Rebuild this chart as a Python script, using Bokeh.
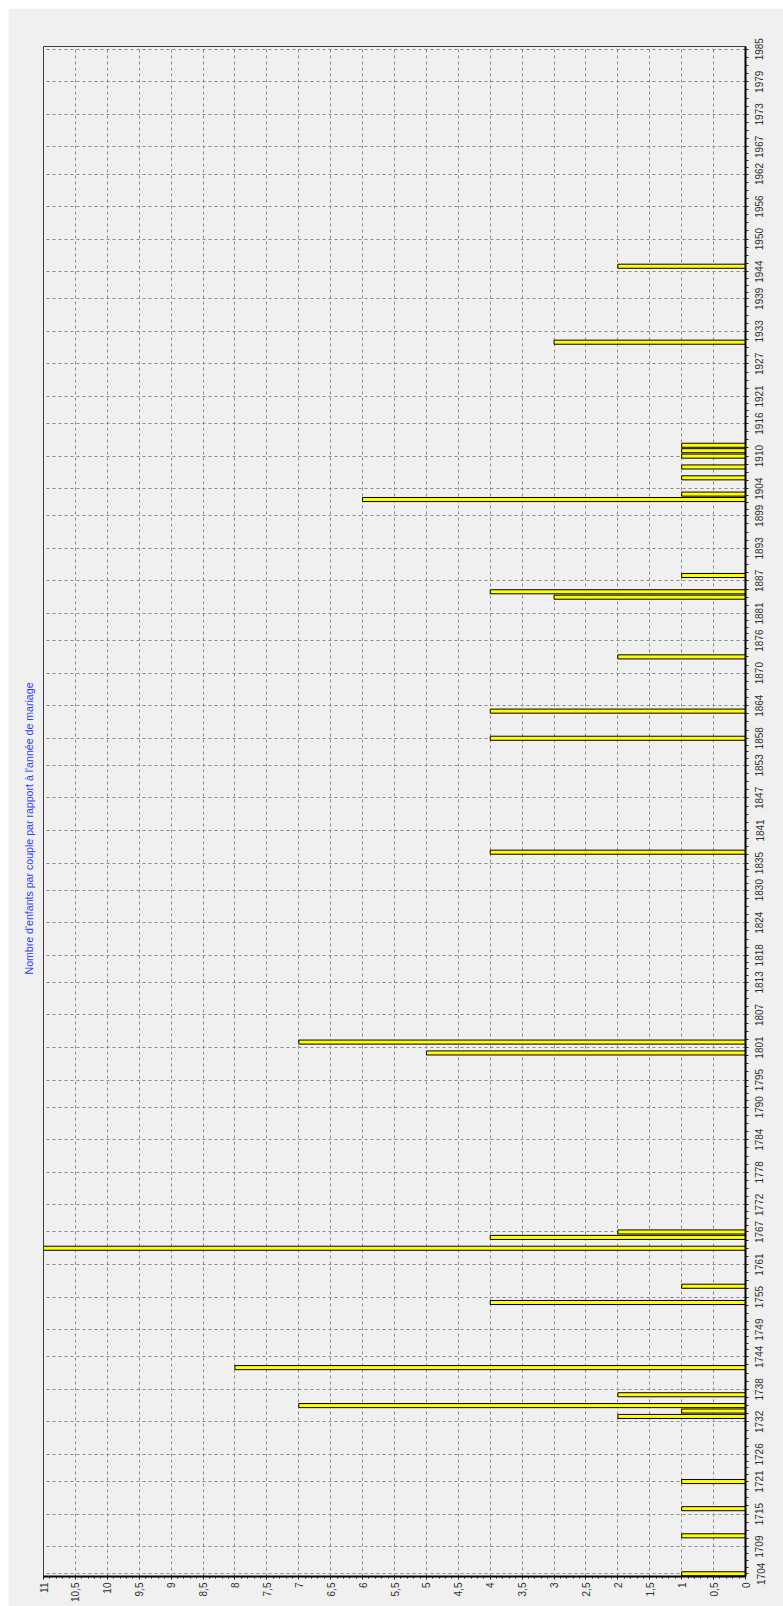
import numpy as np
from bokeh.plotting import figure
from bokeh.models import Range1d, FixedTicker, ColumnDataSource, LinearAxis, Label
from bokeh.embed import file_html
from bokeh.resources import INLINE

# ---- data ----
years = [1704, 1711, 1716, 1721, 1733, 1734, 1735, 1737, 1742, 1754, 1757,
         1764, 1766, 1767, 1800, 1802, 1837, 1858, 1863, 1873, 1884, 1885,
         1888, 1902, 1903, 1906, 1908, 1910, 1911, 1912, 1931, 1945]
children = [1, 1, 1, 1, 2, 1, 7, 2, 8, 4, 1,
            11, 4, 2, 5, 7, 4, 4, 4, 2, 3, 4,
            1, 6, 1, 1, 1, 1, 1, 1, 3, 2]

year_ticks = [1704, 1709, 1715, 1721, 1726, 1732, 1738, 1744, 1749, 1755,
              1761, 1767, 1772, 1778, 1784, 1790, 1795, 1801, 1807, 1813,
              1818, 1824, 1830, 1835, 1841, 1847, 1853, 1858, 1864, 1870,
              1876, 1881, 1887, 1893, 1899, 1904, 1910, 1916, 1921, 1927,
              1933, 1939, 1944, 1950, 1956, 1962, 1967, 1973, 1979, 1985]

value_ticks = [0, 0.5, 1, 1.5, 2, 2.5, 3, 3.5, 4, 4.5, 5, 5.5,
               6, 6.5, 7, 7.5, 8, 8.5, 9, 9.5, 10, 10.5, 11]
value_tick_labels = ["0", "0,5", "1", "1,5", "2", "2,5", "3", "3,5", "4", "4,5",
                     "5", "5,5", "6", "6,5", "7", "7,5", "8", "8,5", "9", "9,5",
                     "10", "10,5", "11"]

title_text = "Nombre d'enfants par couple par rapport à l'année de mariage"

# ---- figure ----
BG = "#f0f0f0"
Y0, Y1 = 1703.5, 1985.5
FRAME_H = 1598 - 38 - 30
src = ColumnDataSource(dict(year=years, n=children))

p = figure(width=775, height=1598, output_backend="svg", toolbar_location=None,
           x_range=Range1d(11, 0), y_range=Range1d(Y0, Y1),
           y_axis_location="right", x_axis_location="below",
           title=title_text, title_location="left",
           min_border_left=35, min_border_right=38,
           min_border_top=38, min_border_bottom=30)
p.margin = (8, 0, 0, 8)

p.background_fill_color = BG
p.border_fill_color = BG
p.outline_line_color = "#404040"
p.outline_line_width = 1

p.title.text_font = "Liberation Sans"
p.title.text_font_size = "10.6px"
p.title.text_font_style = "normal"
p.title.text_color = "#3a3aff"
p.title.align = "left"
p.title.offset = 602
p.title.standoff = 18

# tick positions on the year axis (labels + quarters between them)
yt = np.array(year_ticks, dtype=float)
year_marks = list(yt)
for a, b in zip(yt[:-1], yt[1:]):
    year_marks += list(a + (b - a) * np.array([0.25, 0.5, 0.75]))
year_marks.sort()
val_minor = list(np.arange(0, 11.0001, 0.1))

# tick axis: axis line and tick marks only
yax = p.yaxis[0]
yax.ticker = FixedTicker(ticks=[], minor_ticks=year_marks)
yax.major_label_standoff = 0
yax.axis_line_color = "black"
yax.axis_line_width = 2
yax.major_tick_in = 0
yax.major_tick_out = 3
yax.minor_tick_in = 0
yax.minor_tick_out = 3
yax.major_tick_line_color = "#202020"
yax.minor_tick_line_color = "#202020"

# label axis: rotated labels start at their anchor, so shift anchors down by
# half a label length to centre each label on its tick
LABEL_FS = 10
half_len_px = 4 * 0.556 * LABEL_FS / 2
shift = half_len_px * (Y1 - Y0) / FRAME_H
anchor = [v - shift for v in year_ticks]
lab_ax = LinearAxis(ticker=FixedTicker(ticks=anchor, minor_ticks=[]),
                    major_label_overrides={a: str(v) for a, v in zip(anchor, year_ticks)},
                    major_label_orientation=np.pi / 2,
                    axis_line_color=None, major_tick_line_color=None,
                    minor_tick_line_color=None,
                    major_label_standoff=5,
                    major_label_text_font="Liberation Sans",
                    major_label_text_font_size=f"{LABEL_FS}px",
                    major_label_text_color="#303030")
p.add_layout(lab_ax, "right")

# the first label's anchor falls below the frame: draw it as a side-panel label
p.add_layout(Label(x=0, y=year_ticks[0], x_offset=15, angle=np.pi / 2,
                   text=str(year_ticks[0]), text_align="center",
                   text_baseline="middle", text_font="Liberation Sans",
                   text_font_size=f"{LABEL_FS}px", text_color="#303030"),
             "right")

xax = p.xaxis[0]
xax.ticker = FixedTicker(ticks=value_ticks, minor_ticks=val_minor)
xax.major_label_overrides = dict(zip(value_ticks, value_tick_labels))
xax.major_label_orientation = np.pi / 2
xax.axis_line_color = "black"
xax.axis_line_width = 2
xax.major_tick_in = 0
xax.major_tick_out = 3
xax.minor_tick_in = 0
xax.minor_tick_out = 2
xax.major_tick_line_color = "#202020"
xax.minor_tick_line_color = "#202020"
xax.major_label_text_font = "Liberation Sans"
xax.major_label_text_font_size = "10px"
xax.major_label_text_color = "#303030"
xax.major_label_standoff = 3

for g in (p.xgrid[0], p.ygrid[0]):
    g.grid_line_color = "#8a8a8a"
    g.grid_line_dash = "3 3"
    g.grid_line_width = 1
p.ygrid[0].ticker = FixedTicker(ticks=year_ticks)

p.hbar(y="year", left=0, right="n", height=0.75, source=src,
       fill_color="#ffff00", line_color="black", line_width=1)

open("out.html", "w").write(file_html(p, INLINE))
